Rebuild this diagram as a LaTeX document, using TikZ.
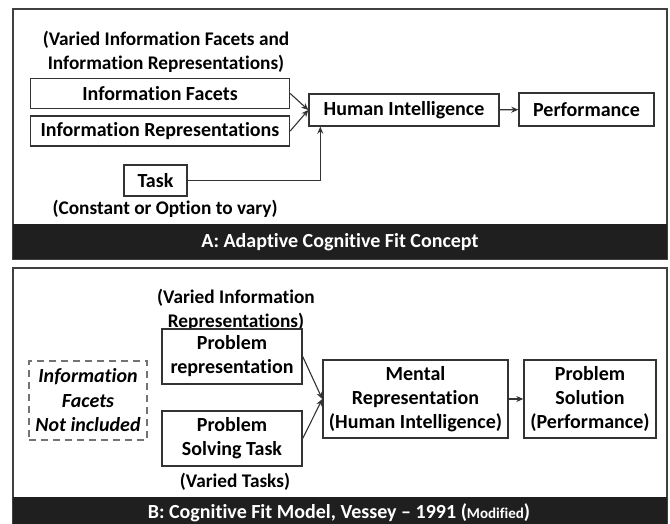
\documentclass[tikz,border=0pt]{standalone}
\usepackage{fontspec}
\setmainfont[Ligatures=NoCommon]{Carlito}
\usetikzlibrary{arrows.meta}
\begin{document}
\begin{tikzpicture}[x=1pt, y=-1pt,
	box/.style={draw=black!80, line width=1.4pt, inner sep=0pt, align=center, font=\fontsize{20}{24}\selectfont\bfseries},
	lbl/.style={inner sep=0pt, align=center, font=\fontsize{19.3}{24}\selectfont\bfseries},
	bartext/.style={inner sep=0pt, text=white, font=\fontsize{20}{24}\selectfont\bfseries},
	conn/.style={draw=black!80, line width=1.1pt, -{Stealth[length=7pt, width=6pt]}}]
		\useasboundingbox (0,0) rectangle (670,524);
		% panel A
		\draw[black!75, line width=2.2pt] (13,9) rectangle (667,259);
		\fill[black!88] (13,224) rectangle (667,259);
		\node[lbl] (hdrA) at (166,52) {(Varied Information Facets and\\Information Representations)};
		\node[box, minimum width=259pt, minimum height=30pt] (facets) at (160,93.5) {Information Facets};
		\node[box, minimum width=259pt, minimum height=30pt] (reps) at (160,131) {Information Representations};
		\node[box, minimum width=63pt, minimum height=31pt] (task) at (155.5,180.5) {Task};
		\node[lbl] (taskcap) at (165,209) {(Constant or Option to vary)};
		\node[box, minimum width=190pt, minimum height=32pt] (human) at (404,110) {Human Intelligence};
		\node[box, minimum width=135pt, minimum height=33pt] (perf) at (586.5,109.5) {Performance};
		\node[bartext] (barA) at (340,242) {A: Adaptive Cognitive Fit Concept};
		\draw[conn] (facets.east) -- (human.west);
		\draw[conn] (reps.east) -- (human.west);
		\draw[conn] (task.east) -| ([xshift=12pt]human.south west);
		\draw[conn] (human) -- (perf);
		% panel B
		\draw[black!75, line width=2.2pt] (13,268) rectangle (667,526);
		\fill[black!88] (13,497) rectangle (667,526);
		\node[lbl] (hdrB) at (236,309.5) {(Varied Information\\Representations)};
		\node[box, minimum width=140pt, minimum height=55pt] (prep) at (232,356.5) {Problem\\representation};
		\node[box, minimum width=140pt, minimum height=55pt] (ptask) at (232,438.5) {Problem\\Solving Task};
		\node[lbl] (tasksB) at (235,482) {(Varied Tasks)};
		\node[box, draw=black!55, dashed, dash pattern=on 7pt off 5pt, minimum width=118pt, minimum height=79pt, font=\fontsize{20}{24.5}\selectfont\bfseries\itshape] (facetsB) at (88,400.5) {Information\\Facets\\Not included};
		\node[box, minimum width=185pt, minimum height=78pt] (mental) at (415.5,399) {Mental\\Representation\\(Human Intelligence)};
		\node[box, minimum width=132pt, minimum height=78pt] (solution) at (590,399) {Problem\\Solution\\(Performance)};
		\node[bartext] (barB) at (339,513) {B: Cognitive Fit Model, Vessey -- 1991 ({\fontsize{15}{17}\selectfont Modified})};
		\draw[conn] (prep.east) -- (mental.west);
		\draw[conn] (ptask.east) -- (mental.west);
		\draw[conn] (mental) -- (solution);
	\end{tikzpicture}
\end{document}
